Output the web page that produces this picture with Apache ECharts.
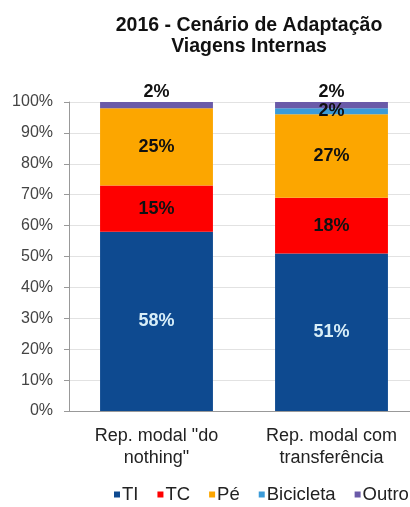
<!DOCTYPE html>
<html><head><meta charset="utf-8">
<script src="https://cdn.jsdelivr.net/npm/echarts@6/dist/echarts.min.js"></script>
<style>html,body{margin:0;padding:0;background:#fff}#c{width:410px;height:507px}</style>
</head><body><div id="c"></div>
<script>
const categories = ['Rep. modal "do\nnothing"', 'Rep. modal com\ntransferência'];
const seriesNames = ['TI', 'TC', 'Pé', 'Bicicleta', 'Outro'];
const TI = [58, 51];
const TC = [15, 18];
const Pe = [25, 27];
const Bicicleta = [0, 2];
const Outro = [2, 2];
const yTicks = [0, 10, 20, 30, 40, 50, 60, 70, 80, 90, 100];

const colors = ['#0e4a90', '#fe0000', '#fca600', '#3b9bd8', '#6a5aa8'];
const dataSets = [TI, TC, Pe, Bicicleta, Outro];
const labelColors = ['#d8eef8', '#111', '#111', '#111', '#111'];

const chart = echarts.init(document.getElementById('c'), null, {renderer: 'canvas'});
chart.setOption({
  animation: false,
  title: {
    text: '2016 - Cenário de Adaptação\nViagens Internas',
    left: 244, top: 10, textAlign: 'center',
    textStyle: {fontFamily: 'Liberation Sans', fontSize: 19.5, fontWeight: 'bold', color: '#111', lineHeight: 21}
  },
  legend: {
    data: seriesNames, left: 109, top: 480, width: 320, icon: 'rect', itemWidth: 6, itemHeight: 6, itemGap: 19,
    textStyle: {fontFamily: 'Liberation Sans', fontSize: 18.5, color: '#222', padding: [0,0,0,-3]}
  },
  grid: {left: 69, width: 350, top: 102, bottom: 96, containLabel: false, outerBoundsMode: 'none'},
  xAxis: {
    type: 'category', data: categories,
    axisLine: {lineStyle: {color: '#999'}}, axisTick: {show: false},
    axisLabel: {fontFamily: 'Liberation Sans', fontSize: 18, color: '#222', margin: 14, lineHeight: 22}
  },
  yAxis: {
    type: 'value', min: yTicks[0], max: yTicks[yTicks.length-1], interval: 10,
    axisLine: {show: true, lineStyle: {color: '#999'}},
    axisTick: {show: true, length: 5, lineStyle: {color: '#999'}},
    splitLine: {lineStyle: {color: '#e2e2e2'}},
    axisLabel: {formatter: '{value}%', fontFamily: 'Liberation Sans', fontSize: 16, color: '#444', margin: 16}
  },
  series: seriesNames.map((n, i) => ({
    name: n, type: 'bar', stack: 'total', data: dataSets[i], barWidth: '64.5%',
    itemStyle: {color: colors[i]},
    label: {
      show: true,
      position: i === 4 ? 'top' : 'inside',
      distance: 1,
      formatter: p => p.value ? p.value + '%' : '',
      fontFamily: 'Liberation Sans', fontSize: 18, fontWeight: 'bold', color: labelColors[i]
    }
  }))
});
</script></body></html>
